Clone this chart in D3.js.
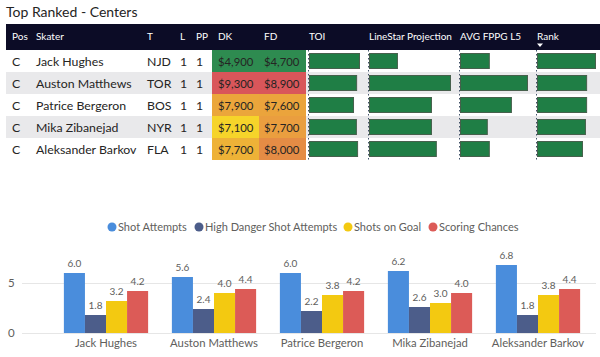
<!DOCTYPE html>
<html><head><meta charset="utf-8">
<script src="https://cdn.jsdelivr.net/npm/d3@7"></script>
<style>
body{margin:0;background:#fff;}
svg{display:block;font-family:"Lato","Noto Sans",sans-serif;}
</style></head>
<body><svg id="c" width="600" height="357"></svg>
<script>
// ---------- DATA ----------
const title = "Top Ranked - Centers";
const headers = ["Pos","Skater","T","L","PP","DK","FD","TOI","LineStar Projection","AVG FPPG L5","Rank"];
const positions = ["C","C","C","C","C"];
const skaters = ["Jack Hughes","Auston Matthews","Patrice Bergeron","Mika Zibanejad","Aleksander Barkov"];
const teams = ["NJD","TOR","BOS","NYR","FLA"];
const lines = [1,1,1,1,1];
const ppUnits = [1,1,1,1,1];
const dkSalary = [4900,9300,7900,7100,7700];
const fdSalary = [4700,8900,7600,7700,8000];
const toi = [20.9,19.7,18.4,19.6,20.1];
const lineStarProj = [6.9,20.0,15.3,15.3,16.5];
const avgFppgL5 = [4.3,10.0,7.6,4.0,4.3];
const rankScore = [9.8,8.3,8.3,8.1,7.6];

const seriesNames = ["Shot Attempts","High Danger Shot Attempts","Shots on Goal","Scoring Chances"];
const shotAttempts = [6.0,5.6,6.0,6.2,6.8];
const highDanger = [1.8,2.4,2.2,2.6,1.8];
const shotsOnGoal = [3.2,4.0,3.8,3.0,3.8];
const scoringChances = [4.2,4.4,4.2,4.0,4.4];
const yTicks = [0,5];

// ---------- DRAW ----------
const svg = d3.select("#c");
const seriesColors = ["#4a8ddc","#4c5d8a","#f3c911","#dc5b57"];

svg.append("text").attr("x",6).attr("y",17).attr("font-size",14).attr("fill","#252423").text(title);

// Table
const rowTop = 50, rowH = 22;
const yRow = d3.scaleBand().domain(d3.range(skaters.length)).range([rowTop, rowTop + rowH*skaters.length]);
svg.append("rect").attr("x",6).attr("y",24).attr("width",594).attr("height",26).attr("fill","#0c0c26");

const colX = {Pos:12,Skater:36,T:147,L:180,PP:196,DK:218,FD:264,TOI:309,"LineStar Projection":369,"AVG FPPG L5":460,Rank:537};
svg.selectAll("text.hdr").data(headers).join("text").attr("class","hdr")
  .attr("x",d=>colX[d]).attr("y",39.5).attr("font-size",10).attr("fill","#ffffff").text(d=>d);
// sort indicator
svg.append("path").attr("d","M537,43.5 L543,43.5 L540,47 Z").attr("fill","#fff");

const rows = svg.append("g");
rows.selectAll("rect.rowbg").data(d3.range(skaters.length)).join("rect").attr("class","rowbg")
  .attr("x",6).attr("y",i=>yRow(i)).attr("width",594).attr("height",rowH)
  .attr("fill",i=>i%2===1?"#e9e9eb":"#ffffff");

function heat(arr){
  const mn=d3.min(arr), mx=d3.max(arr);
  return d3.scaleLinear().domain([mn,(mn+mx)/2,mx]).range(["#2e8b50","#f6d42a","#d9565a"]);
}
const dkC = heat(dkSalary), fdC = heat(fdSalary);
const fmt = d=>"$"+d3.format(",")(d);
rows.selectAll("rect.dk").data(dkSalary).join("rect").attr("x",212).attr("y",(d,i)=>yRow(i)).attr("width",47).attr("height",rowH).attr("fill",d=>dkC(d));
rows.selectAll("rect.fd").data(fdSalary).join("rect").attr("x",259).attr("y",(d,i)=>yRow(i)).attr("width",47).attr("height",rowH).attr("fill",d=>fdC(d));

const cols = [["Pos",positions],["Skater",skaters],["T",teams],["L",lines],["PP",ppUnits],["DK",dkSalary.map(fmt)],["FD",fdSalary.map(fmt)]];
cols.forEach(([k,arr])=>{
  rows.selectAll(null).data(arr).join("text").attr("x",colX[k]).attr("y",(d,i)=>yRow(i)+rowH/2+4.5)
    .attr("font-size",k==="DK"||k==="FD"?11.3:12.3).attr("fill","#252423").text(d=>d);
});

// data bars
const barCols = [["TOI",toi,50],["LineStar Projection",lineStarProj,81],["AVG FPPG L5",avgFppgL5,67],["Rank",rankScore,58]];
barCols.forEach(([k,arr,w])=>{
  const x = d3.scaleLinear().domain([0,d3.max(arr)]).range([0,w]);
  rows.selectAll(null).data(arr).join("rect").attr("x",colX[k]+0.5).attr("y",(d,i)=>yRow(i)+3.5)
    .attr("width",d=>x(d)).attr("height",rowH-7).attr("fill","#1f7e45").attr("stroke","#46604c").attr("stroke-width",1);
  rows.append("line").attr("x1",colX[k]-0.5).attr("x2",colX[k]-0.5).attr("y1",rowTop).attr("y2",rowTop+rowH*skaters.length)
    .attr("stroke","#44546a").attr("stroke-dasharray","1.5,2.5").attr("stroke-width",1);
});

// Bar chart
const series = [shotAttempts,highDanger,shotsOnGoal,scoringChances];
const x0 = d3.scaleBand().domain(skaters).range([52,592]).paddingInner(0.22).paddingOuter(0.11);
const x1 = d3.scaleBand().domain(d3.range(series.length)).range([0,x0.bandwidth()]);
const y = d3.scaleLinear().domain([0,5]).range([333,283]);

svg.selectAll("line.grid").data(yTicks).join("line").attr("x1",22).attr("x2",596).attr("y1",d=>y(d)+0.5).attr("y2",d=>y(d)+0.5)
  .attr("stroke","#e6e6e6");
svg.selectAll("text.ytick").data(yTicks).join("text").attr("x",8).attr("y",d=>y(d)+4).attr("font-size",11.5).attr("fill","#605e5c").text(d=>d);

const g = svg.append("g");
series.forEach((vals,s)=>{
  g.selectAll(null).data(vals).join("rect")
    .attr("x",(d,i)=>x0(skaters[i])+x1(s)).attr("y",d=>y(d)).attr("width",x1.bandwidth()).attr("height",d=>y(0)-y(d))
    .attr("fill",seriesColors[s]);
  g.selectAll(null).data(vals).join("text")
    .attr("x",(d,i)=>x0(skaters[i])+x1(s)+x1.bandwidth()/2).attr("y",d=>y(d)-6)
    .attr("text-anchor","middle").attr("font-size",10).attr("fill","#605e5c").text(d=>d3.format(".1f")(d));
});
svg.selectAll("text.xlab").data(skaters).join("text").attr("x",d=>x0(d)+x0.bandwidth()/2).attr("y",347)
  .attr("text-anchor","middle").attr("font-size",11.3).attr("fill","#605e5c").text(d=>d);

// legend
const legX = [112,199,348,433];
seriesNames.forEach((n,i)=>{
  svg.append("circle").attr("cx",legX[i]).attr("cy",227).attr("r",4.5).attr("fill",seriesColors[i]);
  svg.append("text").attr("x",legX[i]+6).attr("y",231).attr("font-size",11).attr("fill","#605e5c").text(n);
});
</script></body></html>
